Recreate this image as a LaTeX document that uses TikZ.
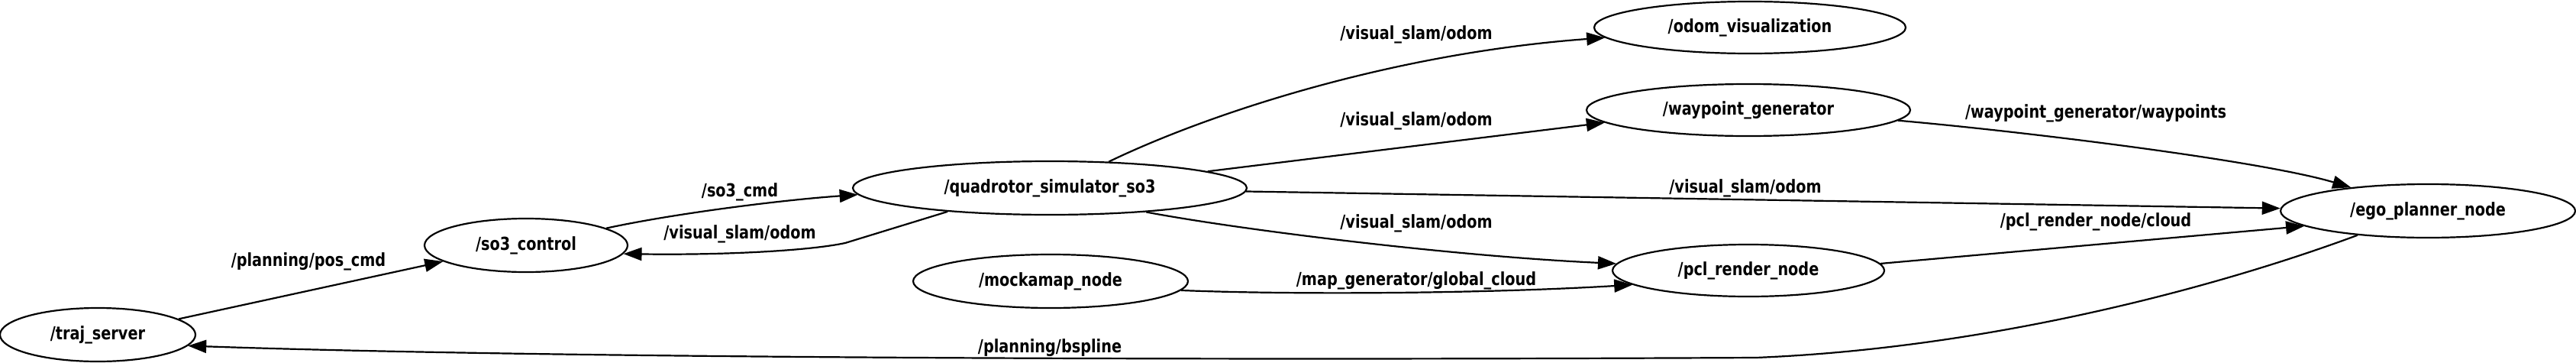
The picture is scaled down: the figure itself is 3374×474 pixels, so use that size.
\documentclass[tikz,border=0pt]{standalone}
\usepackage{fontspec}
\newfontfamily\lblfont{DejaVu Sans}[FakeStretch=0.82]
\newcommand\lbl{\lblfont\bfseries\fontsize{23.5}{24}\selectfont}
\usetikzlibrary{shapes.geometric, arrows.meta}
\begin{document}
\begin{tikzpicture}[x=1pt,y=-1pt,
  nd/.style={ellipse, draw, line width=2.2pt, inner sep=0pt, font=\lbl, minimum height=70pt},
  lb/.style={font=\lbl, inner sep=0pt},
  ed/.style={line width=2.2pt, -{Triangle[length=24pt,width=17pt]}}]
\useasboundingbox (0,0) rectangle (3374,474);
% nodes
\node[nd, minimum width=256pt] (traj) at (128,438) {/traj\_server};
\node[nd, minimum width=266pt] (so3) at (689,321) {/so3\_control};
\node[nd, minimum width=516pt] (quad) at (1375,246) {/quadrotor\_simulator\_so3};
\node[nd, minimum width=360pt] (mock) at (1376,368) {/mockamap\_node};
\node[nd, minimum width=408pt, minimum height=68pt] (odomvis) at (2292,36) {/odom\_visualization};
\node[nd, minimum width=424pt, minimum height=68pt] (wp) at (2290,144) {/waypoint\_generator};
\node[nd, minimum width=356pt, minimum height=68pt] (pcl) at (2290,354) {/pcl\_render\_node};
\node[nd, minimum width=386pt] (ego) at (3180,276) {/ego\_planner\_node};
% edges
\draw[ed] (traj.11.9) -- (so3.191.7);
\draw[ed] (so3.12.6) .. controls (880,280) and (1020,262) .. (quad.182.6);
\draw[ed] (quad.193.5) -- (1107,318) .. controls (1060,328) and (950,334) .. (so3.355);
\draw[ed] (quad.24.7) .. controls (1580,150) and (1820,70) .. (odomvis.184.4);
\draw[ed] (quad.6.5) -- (wp.185.8);
\draw[ed] (quad.359) -- (ego.179);
\draw[ed] (quad.346.5) .. controls (1620,300) and (1900,335) .. (pcl.177.7);
\draw[ed] (mock.356.7) .. controls (1700,386) and (1950,384) .. (pcl.187.3);
\draw[ed] (wp.356.3) .. controls (2650,172) and (2960,210) .. (ego.163.8);
\draw[ed] (pcl.3.6) -- (ego.187.8);
\draw[ed] (ego.199.4) .. controls (2920,370) and (2620,455) .. (2300,468)
   .. controls (1500,472) and (700,468) .. (traj.353.9);
% labels
\node[lb] (l1) at (404,342) {/planning/pos\_cmd};
\node[lb] (l2) at (969,251) {/so3\_cmd};
\node[lb] (l3) at (969,306) {/visual\_slam/odom};
\node[lb] (l4) at (1855,45) {/visual\_slam/odom};
\node[lb] (l5) at (1855,158) {/visual\_slam/odom};
\node[lb] (l6) at (2286,246) {/visual\_slam/odom};
\node[lb] (l7) at (1855,292) {/visual\_slam/odom};
\node[lb] (l8) at (1855,367) {/map\_generator/global\_cloud};
\node[lb] (l9) at (2745,148) {/waypoint\_generator/waypoints};
\node[lb] (l10) at (2745,290) {/pcl\_render\_node/cloud};
\node[lb] (l11) at (1375,455) {/planning/bspline};
\end{tikzpicture}
\end{document}
